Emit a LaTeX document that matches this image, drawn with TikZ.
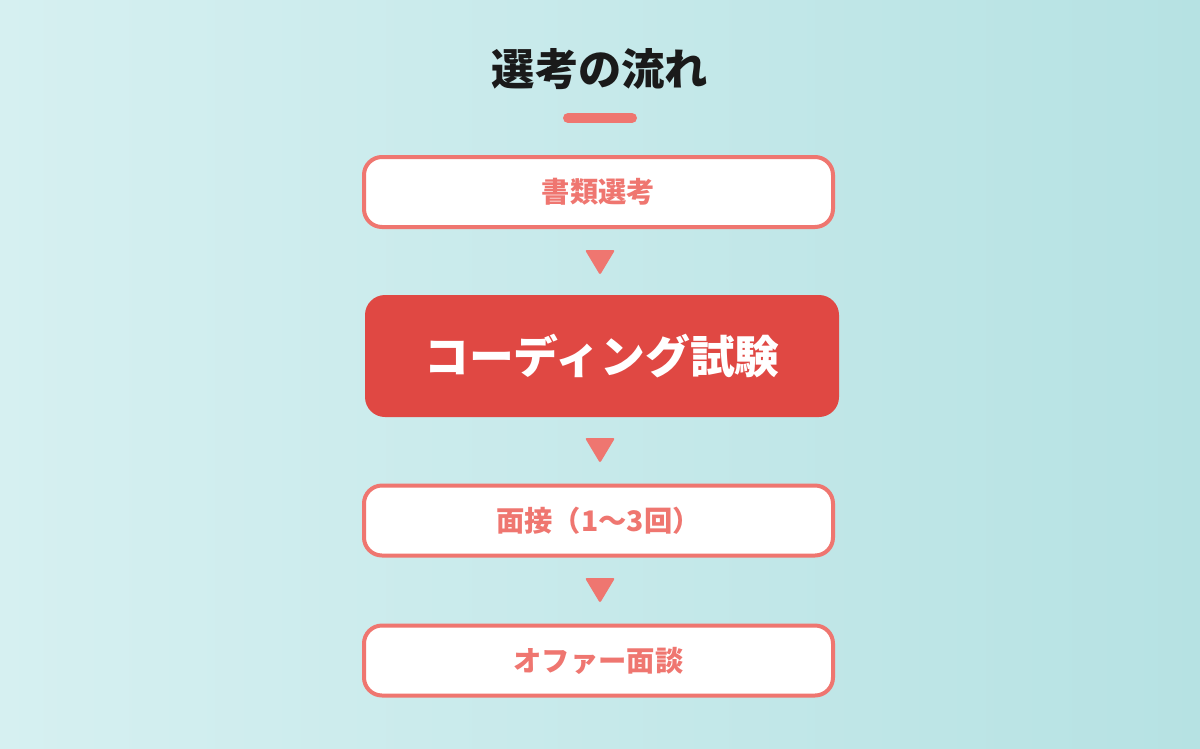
\documentclass[tikz,border=0pt]{standalone}
\usepackage{fontspec}
\setmainfont{Noto Sans CJK JP}
\usetikzlibrary{calc}
\definecolor{bgl}{HTML}{D6F0F1}
\definecolor{bgr}{HTML}{B6E2E3}
\definecolor{pinkc}{HTML}{EF7670}
\definecolor{redc}{HTML}{E04843}
\definecolor{titlec}{HTML}{1A1A1A}
\tikzset{
  stepbox/.style={draw=pinkc, line width=4pt, fill=white, rounded corners=18pt,
    minimum width=469pt, minimum height=70pt, text=pinkc,
    font=\fontsize{28.3}{34}\selectfont\bfseries, inner sep=0pt},
  mainbox/.style={fill=redc, rounded corners=20pt, minimum width=474pt, minimum height=122pt,
    text=white, font=\fontsize{44.8}{52}\selectfont\bfseries, inner sep=0pt},
  tri/.style={fill=pinkc, rounded corners=2pt}
}
\begin{document}
\begin{tikzpicture}[x=1pt,y=-1pt]
\shade[left color=bgl, right color=bgr] (0,0) rectangle (1200,748);
\useasboundingbox (0,0) rectangle (1200,748);
\node[text=titlec, font=\fontsize{43.3}{50}\selectfont\bfseries] (title) at (600,69) {選考の流れ};
\draw[pinkc, line width=10pt, line cap=round] (568,118) -- (632,118);
\node[stepbox] (s1) at (598.5,192) {書類選考};
\node[mainbox] (s2) at (602,356) {コーディング試験};
\node[stepbox] (s3) at (598.5,520.5) {面接（1〜3回）};
\node[stepbox] (s4) at (598.5,660.5) {オファー面談};
\fill[tri] (585,250) -- (615,250) -- (600,275) -- cycle;
\fill[tri] (585,438) -- (615,438) -- (600,463) -- cycle;
\fill[tri] (585,578) -- (615,578) -- (600,603) -- cycle;
\end{tikzpicture}
\end{document}
